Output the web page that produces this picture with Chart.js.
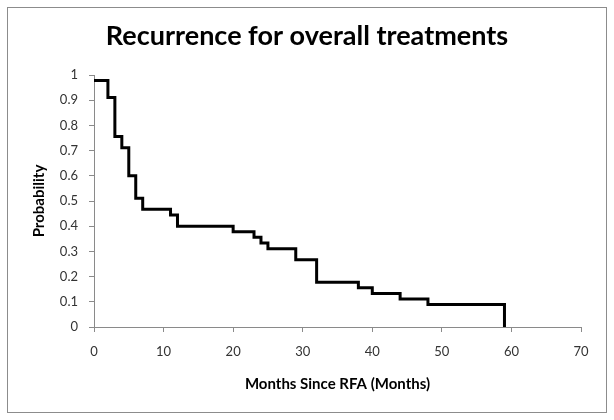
<!DOCTYPE html>
<html>
<head>
<meta charset="utf-8">
<script src="https://cdn.jsdelivr.net/npm/chart.js@4/dist/chart.umd.min.js"></script>
<style>
  html, body { margin: 0; padding: 0; background: #fff; }
  #wrap { width: 614px; height: 420px; }
</style>
</head>
<body>
<div id="wrap"><canvas id="c" width="614" height="420"></canvas></div>
<script>
const chartTitle = 'Recurrence for overall treatments';
const xTitle = 'Months Since RFA (Months)';
const yTitle = 'Probability';
const months = [0, 2, 3, 4, 5, 6, 7, 11, 12, 20, 23, 24, 25, 29, 32, 38, 40, 44, 48, 59];
const probability = [0.978, 0.911, 0.756, 0.711, 0.6, 0.511, 0.467, 0.444, 0.4, 0.378, 0.356, 0.333, 0.311, 0.267, 0.178, 0.156, 0.133, 0.111, 0.089, 0];
const xTickValues = [0, 10, 20, 30, 40, 50, 60, 70];
const yTickLabels = ['0', '0.1', '0.2', '0.3', '0.4', '0.5', '0.6', '0.7', '0.8', '0.9', '1'];

const FONT = 'Lato, "Open Sans", sans-serif';
const AXIS_GRAY = '#8a8a8a';

const frame = {
  id: 'frame',
  afterDraw(chart) {
    const ctx = chart.ctx;
    ctx.save();
    ctx.strokeStyle = '#8c8c8c';
    ctx.lineWidth = 1;
    ctx.strokeRect(7.5, 7.5, 599, 405);
    ctx.restore();
  }
};

new Chart(document.getElementById('c'), {
  type: 'line',
  data: {
    datasets: [{
      data: months.map((m, i) => ({ x: m, y: probability[i] })),
      borderColor: '#000000',
      borderWidth: 3,
      pointRadius: 0,
      stepped: 'before',
      fill: false,
      borderJoinStyle: 'miter',
      borderCapStyle: 'butt'
    }]
  },
  options: {
    responsive: false,
    animation: false,
    devicePixelRatio: 1,
    layout: { padding: 0 },
    plugins: {
      legend: { display: false },
      tooltip: { enabled: false },
      title: {
        display: true,
        text: chartTitle,
        color: '#000000',
        font: { family: FONT, size: 27, weight: 'bold' },
        padding: { top: 20, bottom: 22.6 }
      }
    },
    scales: {
      x: {
        type: 'linear',
        min: 0,
        max: 70,
        afterBuildTicks(scale) { scale.ticks = xTickValues.map(v => ({ value: v })); },
        afterFit(scale) { scale.height = 93; },
        border: { display: true, color: AXIS_GRAY, width: 1 },
        grid: { drawOnChartArea: false, drawTicks: true, tickLength: 5, color: AXIS_GRAY },
        ticks: { color: '#333333', font: { family: FONT, size: 13 }, padding: 12, maxRotation: 0 },
        title: {
          display: true,
          text: xTitle,
          color: '#000000',
          font: { family: FONT, size: 15, weight: 'bold' },
          padding: { top: 0, bottom: 27 }
        }
      },
      y: {
        type: 'linear',
        min: 0,
        max: 1,
        ticks: {
          stepSize: 0.1,
          color: '#333333',
          font: { family: FONT, size: 13 },
          padding: 11,
          callback: (v, i) => yTickLabels[i]
        },
        afterFit(scale) { scale.width = 94; },
        border: { display: true, color: AXIS_GRAY, width: 1 },
        grid: { drawOnChartArea: false, drawTicks: true, tickLength: 5, color: AXIS_GRAY },
        title: {
          display: true,
          text: yTitle,
          color: '#000000',
          font: { family: FONT, size: 15, weight: 'bold' },
          padding: { top: 30, bottom: 0 }
        }
      },
      yRight: {
        type: 'linear',
        position: 'right',
        min: 0,
        max: 1,
        display: true,
        ticks: { display: false },
        grid: { display: false, drawTicks: false },
        border: { display: false },
        afterFit(scale) { scale.width = 33; }
      }
    }
  },
  plugins: [frame]
});
</script>
</body>
</html>
